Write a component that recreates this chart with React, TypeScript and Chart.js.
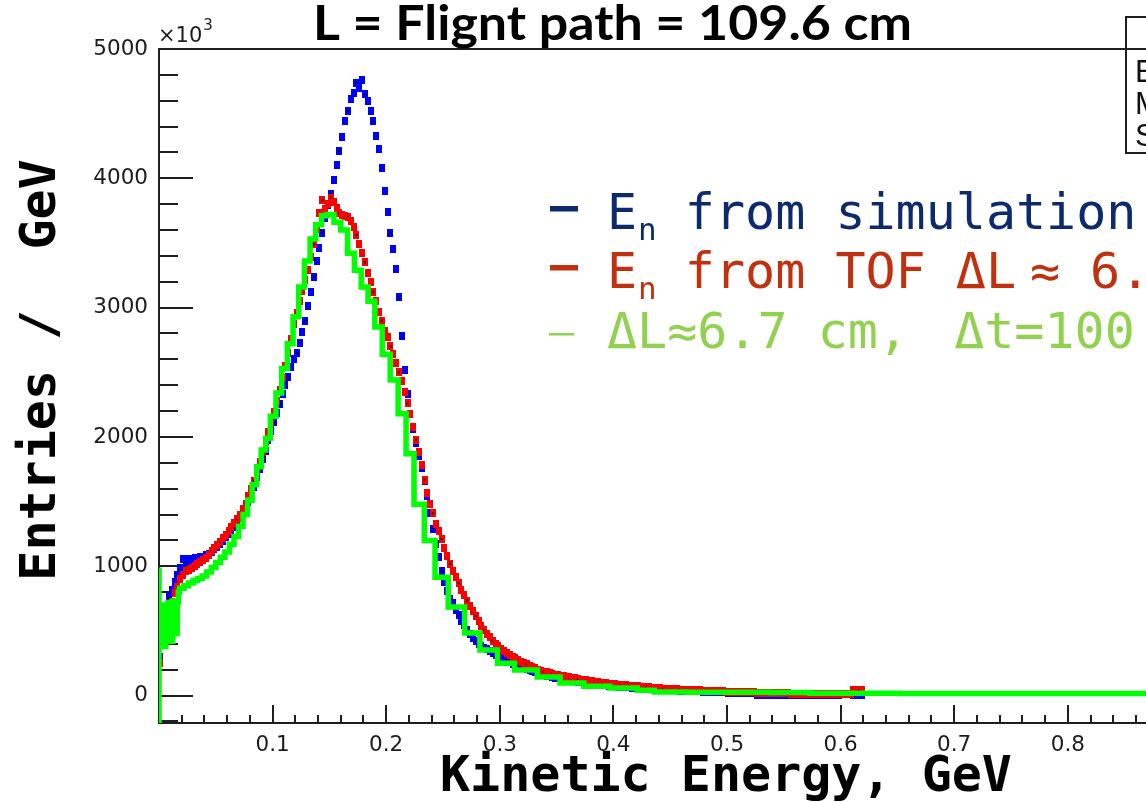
import React, { useEffect, useRef } from 'react';
import { Chart, registerables } from 'chart.js';

Chart.register(...registerables);

const CANVAS_W = 1330;
const CANVAS_H = 802;

const TITLE = 'L = Flignt path = 109.6 cm';
const X_TITLE = 'Kinetic Energy, GeV';
const Y_TITLE = 'Entries /  GeV';
const Y_MULT = '×10';
const Y_EXP = '3';

const X_TICK_VALUES = [0.1, 0.2, 0.3, 0.4, 0.5, 0.6, 0.7, 0.8, 0.9];
const Y_TICK_VALUES = [0, 1000, 2000, 3000, 4000, 5000];
const X_MIN = 0;
const X_MAX = 1;
const Y_MIN = -212;
const Y_MAX = 5000;

// fine binning (GeV) for the simulation and TOF histograms
const FINE_BIN_LOW = 0;
const FINE_BIN_WIDTH = 0.0025;

// E_n from simulation (blue)
const SIM_COUNTS = [
  300, 560, 660, 760, 820, 880, 930, 990, 1060, 1030,
  1055, 1040, 1065, 1050, 1075, 1065, 1085, 1095, 1110, 1130,
  1150, 1170, 1195, 1225, 1250, 1275, 1305, 1340, 1375, 1410,
  1445, 1500, 1550, 1610, 1690, 1750, 1830, 1890, 1975, 2045,
  2115, 2185, 2255, 2330, 2400, 2465, 2540, 2600, 2650, 2730,
  2810, 2900, 3010, 3120, 3240, 3360, 3460, 3580, 3690, 3790,
  3880, 3990, 4100, 4210, 4320, 4440, 4520, 4610, 4660, 4740,
  4700, 4760, 4650, 4600, 4520, 4440, 4330, 4230, 4080, 3900,
  3740, 3580, 3450, 3300, 3080, 2780, 2520, 2330, 2180, 2060,
  1950, 1850, 1760, 1660, 1540, 1410, 1290, 1170, 1070, 960,
  880, 810, 750, 715, 660, 620, 575, 545, 505, 475,
  445, 420, 400, 385, 370, 358, 342, 330, 316, 304,
  291, 279, 268, 256, 246, 238, 229, 221, 213, 206,
  198, 191, 184, 176, 169, 162, 155, 149, 144, 139,
  133, 129, 125, 121, 118, 114, 110, 106, 103, 99,
  96, 93, 90, 88, 85, 82, 80, 78, 76, 74,
  72, 70, 68, 66, 65, 63, 61, 60, 58, 57,
  55, 54, 52, 51, 49, 48, 47, 45, 44, 43,
  42, 41, 40, 39, 38, 37, 36, 35, 34, 33,
  32, 31, 30, 29, 28, 27, 27, 26, 25, 24,
  23, 23, 22, 21, 20, 20, 19, 18, 18, 17,
  5, 6, 16, 5, 6, 4, 5, 14, 5, 4,
  4, 5, 4, 4, 5, 4, 4, 5, 4, 5,
  4, 4, 5, 4, 4, 5, 4, 4, 5, 4,
  10, 10, 9, 10, 8, 8, 9, 8,
];

// E_n from TOF (red)
const TOF_COUNTS = [
  250, 500, 560, 650, 720, 790, 840, 900, 930, 960,
  970, 985, 1000, 1015, 1030, 1050, 1065, 1090, 1115, 1140,
  1165, 1190, 1215, 1245, 1275, 1305, 1335, 1365, 1400, 1440,
  1485, 1540, 1600, 1660, 1735, 1810, 1885, 1960, 2035, 2110,
  2195, 2280, 2365, 2455, 2550, 2650, 2760, 2870, 2960, 3050,
  3130, 3210, 3290, 3390, 3490, 3610, 3730, 3830, 3760, 3800,
  3850, 3820, 3770, 3730, 3720, 3710, 3700, 3670, 3620, 3560,
  3490, 3420, 3350, 3270, 3200, 3120, 3050, 2970, 2900, 2820,
  2770, 2700, 2640, 2570, 2500, 2430, 2350, 2260, 2180, 2080,
  1980, 1880, 1780, 1670, 1570, 1480, 1410, 1330, 1270, 1210,
  1140, 1080, 1020, 965, 920, 870, 820, 775, 735, 695,
  655, 615, 575, 540, 505, 475, 450, 425, 400, 380,
  362, 345, 330, 316, 302, 288, 274, 262, 251, 241,
  231, 221, 211, 201, 193, 186, 180, 173, 168, 163,
  158, 153, 149, 145, 141, 137, 133, 128, 124, 120,
  117, 113, 110, 106, 103, 100, 98, 95, 92, 90,
  87, 85, 83, 81, 79, 77, 75, 73, 71, 69,
  67, 66, 64, 62, 60, 58, 56, 54, 52, 51,
  50, 49, 48, 47, 46, 45, 44, 43, 42, 41,
  40, 39, 38, 37, 36, 35, 34, 33, 32, 31,
  30, 29, 29, 28, 27, 26, 26, 25, 24, 24,
  23, 22, 22, 21, 20, 20, 19, 19, 18, 18,
  17, 17, 16, 16, 15, 15, 15, 14, 14, 13,
  13, 13, 12, 12, 12, 11, 11, 11, 11, 10,
  10, 10, 10, 11, 42, 43, 40, 41,
];

// ΔL≈6.7 cm, Δt=100 ps (green, variable bins)
const DT_EDGES = [
  0, 0.004,
  0.005, 0.006, 0.007, 0.008, 0.009, 0.010, 0.011, 0.012, 0.013, 0.014, 0.015, 0.016, 0.017, 0.018,
  0.022, 0.026, 0.030, 0.034, 0.038, 0.042, 0.046, 0.050, 0.054, 0.058,
  0.062, 0.066, 0.070, 0.074, 0.078, 0.082, 0.086, 0.090, 0.094, 0.098,
  0.103, 0.108, 0.113, 0.118, 0.123, 0.128, 0.133, 0.138, 0.143, 0.148,
  0.154, 0.160, 0.166, 0.172, 0.178, 0.184, 0.190,
  0.1965, 0.2035, 0.2105, 0.2175, 0.2245, 0.2335, 0.243, 0.2546, 0.269, 0.2825,
  0.298, 0.313, 0.333, 0.353, 0.374, 0.397, 0.421, 0.436, 0.465, 0.505,
  0.538, 0.573, 0.607, 0.652, 0.697, 0.746, 0.8, 0.86, 0.925, 1.0,
];
const DT_COUNTS = [
  990,
  420, 700, 380, 650, 450, 720, 500, 680, 420, 730, 560, 700, 480, 720,
  800, 830, 850, 870, 890, 905, 925, 955, 990, 1030,
  1070, 1110, 1170, 1230, 1310, 1400, 1510, 1630, 1770, 1900,
  1990, 2160, 2340, 2530, 2720, 2930, 3160, 3360, 3530, 3640, 3710,
  3720, 3660, 3600, 3420, 3290, 3160, 3050,
  2850, 2640, 2440, 2180, 1870, 1480, 1200, 915, 685, 483,
  352, 251, 197, 143, 97, 72, 58, 42, 28, 26,
  25, 24, 18, 18, 17, 17, 17, 17, 17,
];

const LEGEND_ENTRIES = [
  { parts: [{ t: 'E' }, { t: 'n', sub: true }, { t: ' from simulation' }], color: '#0c2a6c', thick: true },
  { parts: [{ t: 'E' }, { t: 'n', sub: true }, { t: ' from TOF ΔL' }, { t: '≈', gap: 14 }, { t: '6.7 cm', gap: 30 }], color: '#c0310f', thick: true },
  { parts: [{ t: 'ΔL≈6.7 cm,' }, { t: ' Δt=100 ps', gap: 16 }], color: '#92d050', thick: false },
];

const STATS_LABELS = ['Entries', 'Mean', 'Std Dev'];

function fineBinPoints(counts: number[]) {
  return counts.map((c, i) => ({ x: FINE_BIN_LOW + FINE_BIN_WIDTH * (i + 0.5), y: c }));
}

function stepPoints(edges: number[], counts: number[]) {
  const pts: { x: number; y: number }[] = [{ x: edges[0], y: Y_MIN }];
  counts.forEach((c, i) => pts.push({ x: edges[i], y: c }));
  pts.push({ x: edges[counts.length], y: counts[counts.length - 1] });
  return pts;
}

function makeMarker(color: string, dot: boolean) {
  const c = document.createElement('canvas');
  c.width = 6;
  c.height = 8;
  const g = c.getContext('2d')!;
  g.fillStyle = color;
  g.fillRect(0, 0, 6, 8);
  if (dot) {
    g.fillStyle = '#000';
    g.fillRect(2, 3, 2, 2);
  }
  return c;
}

const TICK_COLOR = '#1e1e1e';
const LABEL_FONT = { family: '"DejaVu Sans"', size: 21.5 };
const LEGEND_FONT = '50px "DejaVu Sans Mono"';
const LEGEND_SUB_FONT = '31px "DejaVu Sans Mono"';

const framePlugin = {
  id: 'rootFrame',
  beforeDatasetsDraw(chart: any) {
    const { ctx, chartArea: a, scales } = chart;
    const xs = scales.x;
    const ys = scales.y;
    ctx.save();
    ctx.strokeStyle = TICK_COLOR;
    ctx.lineWidth = 2;
    ctx.beginPath();
    for (let k = -1; k <= 25; k++) {
      const v = k * 200;
      if (v < Y_MIN || v > Y_MAX) continue;
      const py = Math.round(ys.getPixelForValue(v));
      const len = v % 1000 === 0 ? 34 : 19;
      ctx.moveTo(a.left, py);
      ctx.lineTo(a.left + len, py);
    }
    for (let k = 1; k <= 50; k++) {
      const v = k * 0.02;
      const px = Math.round(xs.getPixelForValue(v));
      const len = k % 5 === 0 ? 18 : 8;
      ctx.moveTo(px, a.bottom);
      ctx.lineTo(px, a.bottom - len);
    }
    ctx.stroke();
    ctx.strokeRect(a.left, a.top, a.right - a.left, a.bottom - a.top);
    ctx.restore();
  },
  afterDraw(chart: any) {
    const { ctx, chartArea: a } = chart;
    ctx.save();
    ctx.fillStyle = '#000';
    ctx.textBaseline = 'alphabetic';
    ctx.textAlign = 'left';
    ctx.font = 'bold 47px Lato';
    const tw = ctx.measureText(TITLE).width;
    ctx.save();
    ctx.translate(313, 40);
    ctx.scale(599 / tw, 1);
    ctx.fillText(TITLE, 0, 0);
    ctx.restore();

    ctx.fillStyle = '#1c1c1c';
    ctx.font = '21px "DejaVu Sans"';
    ctx.fillText(Y_MULT, a.left - 1, 42);
    const mw = ctx.measureText(Y_MULT).width;
    ctx.font = '15px "DejaVu Sans"';
    ctx.fillText(Y_EXP, a.left - 1 + mw + 1, 30);

    ctx.fillStyle = '#000';
    ctx.font = 'bold 50px "DejaVu Sans Mono"';
    ctx.fillText(X_TITLE, 440, 791);
    ctx.save();
    ctx.translate(55, 370);
    ctx.rotate(-Math.PI / 2);
    ctx.textAlign = 'center';
    ctx.fillText(Y_TITLE, 0, 0);
    ctx.restore();

    const baselines = [229, 288, 348];
    LEGEND_ENTRIES.forEach((e, i) => {
      const base = baselines[i];
      ctx.fillStyle = e.color;
      if (e.thick) ctx.fillRect(550, base - 23, 28, 5.5);
      else ctx.fillRect(549, base - 15, 25, 2.5);
      let x = 607;
      e.parts.forEach((p: any) => {
        if (p.gap) x += p.gap;
        if (p.sub) {
          ctx.font = LEGEND_SUB_FONT;
          ctx.fillText(p.t, x + 1, base + 11);
          x += ctx.measureText(p.t).width - 1;
        } else {
          ctx.font = LEGEND_FONT;
          ctx.fillText(p.t, x, base);
          x += ctx.measureText(p.t).width;
        }
      });
    });

    ctx.strokeStyle = TICK_COLOR;
    ctx.lineWidth = 2;
    ctx.fillStyle = '#fff';
    ctx.fillRect(1126, 17, 320, 136);
    ctx.strokeRect(1126, 17, 320, 136);
    ctx.beginPath();
    ctx.moveTo(1126, 49);
    ctx.lineTo(1446, 49);
    ctx.stroke();
    ctx.fillStyle = '#111';
    ctx.font = '31px "Liberation Sans"';
    const sb = [82, 114, 146];
    STATS_LABELS.forEach((s, i) => ctx.fillText(s, 1135, sb[i]));
    ctx.restore();
  },
};

export default function App() {
  const ref = useRef<HTMLCanvasElement>(null);
  useEffect(() => {
    const canvas = ref.current;
    if (!canvas) return;
    const blue = [makeMarker('#0000ff', true), makeMarker('#0000ff', false), makeMarker('#0000ff', false)];
    const red = [makeMarker('#ff0000', true), makeMarker('#ff0000', false), makeMarker('#ff0000', false)];
    const chart = new Chart(canvas, {
      type: 'line',
      data: {
        datasets: [
          {
            label: 'ΔL≈6.7 cm, Δt=100 ps',
            data: stepPoints(DT_EDGES, DT_COUNTS),
            borderColor: '#00ff00',
            backgroundColor: '#00ff00',
            borderWidth: 5.5,
            pointRadius: 0,
            stepped: 'after',
            fill: false,
            borderCapStyle: 'butt',
            borderJoinStyle: 'miter',
          },
          {
            label: 'E_n from TOF',
            data: fineBinPoints(TOF_COUNTS),
            showLine: false,
            pointRadius: 3,
            pointStyle: (c: any) => red[c.dataIndex % 3],
          },
          {
            label: 'E_n from simulation',
            data: fineBinPoints(SIM_COUNTS),
            showLine: false,
            pointRadius: 3,
            pointStyle: (c: any) => blue[c.dataIndex % 3],
          },
        ],
      } as any,
      options: {
        animation: false,
        responsive: false,
        devicePixelRatio: 1,
        layout: { padding: { top: 49, right: CANVAS_W - 1295, left: 0, bottom: 0 } },
        plugins: { legend: { display: false }, tooltip: { enabled: false }, title: { display: false } },
        scales: {
          x: {
            type: 'linear',
            min: X_MIN,
            max: X_MAX,
            afterFit: (s: any) => { s.height = 79; },
            afterBuildTicks: (s: any) => { s.ticks = X_TICK_VALUES.map((v) => ({ value: v })); },
            grid: { display: false, drawTicks: false },
            border: { display: false },
            ticks: {
              padding: 10,
              autoSkip: false,
              maxRotation: 0,
              color: '#1c1c1c',
              font: LABEL_FONT,
              callback: (v: any) => Number(v).toFixed(1),
            },
          },
          y: {
            type: 'linear',
            min: Y_MIN,
            max: Y_MAX,
            afterFit: (s: any) => { s.width = 159; },
            afterBuildTicks: (s: any) => { s.ticks = Y_TICK_VALUES.map((v) => ({ value: v })); },
            grid: { display: false, drawTicks: false },
            border: { display: false },
            ticks: {
              padding: 11,
              color: '#1c1c1c',
              font: LABEL_FONT,
              callback: (v: any) => String(v),
            },
          },
        },
      } as any,
      plugins: [framePlugin],
    });
    return () => chart.destroy();
  }, []);
  return (
    <div style={{ position: 'fixed', left: 0, top: 0, width: 1146, height: 802, overflow: 'hidden', background: '#fff' }}>
      <canvas ref={ref} width={CANVAS_W} height={CANVAS_H} style={{ display: 'block', width: CANVAS_W, height: CANVAS_H }} />
    </div>
  );
}
